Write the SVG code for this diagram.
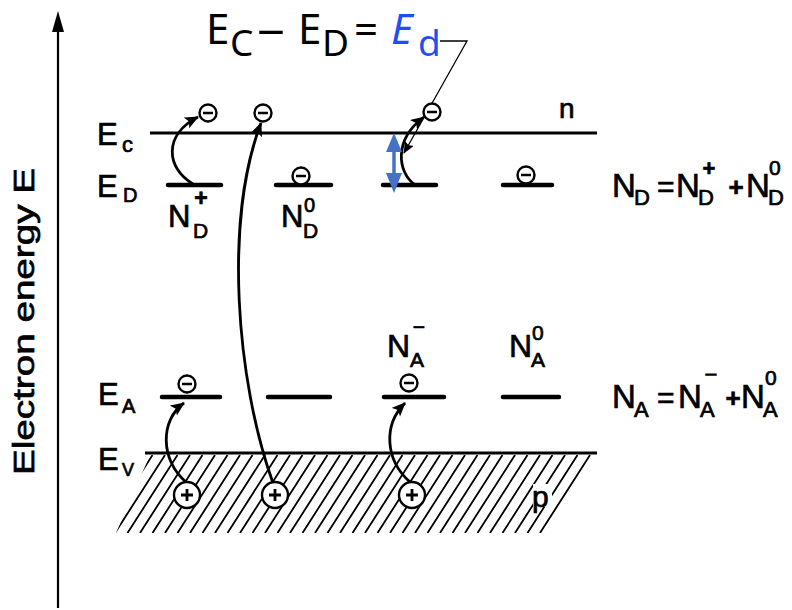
<svg xmlns="http://www.w3.org/2000/svg" width="792" height="610" viewBox="0 0 792 610">
<style>
.t{font-family:"Liberation Sans",Arial,sans-serif;fill:#000;stroke:#000;stroke-width:0.7}
.ti{font-family:"Noto Sans","Liberation Sans",sans-serif;fill:#000}
.lvl{stroke:#000;stroke-width:3;fill:none}
.seg{stroke:#000;stroke-width:4.5;stroke-linecap:round;fill:none}
.hatch{stroke:#000;stroke-width:1.8}
.el{fill:#fff;stroke:#000;stroke-width:2.4}
.arr{fill:none;stroke:#000;stroke-width:2.8}
</style>
<defs>
<marker id="ah" markerUnits="userSpaceOnUse" markerWidth="16" markerHeight="14" refX="13" refY="6" orient="auto">
<path d="M0,0 L14,6 L0,12 L3,6 Z" fill="#000"/>
</marker>
<marker id="ahs" markerUnits="userSpaceOnUse" markerWidth="14" markerHeight="12" refX="11" refY="5" orient="auto">
<path d="M0,0 L12,5 L0,10 L2,5 Z" fill="#000"/>
</marker>
<clipPath id="hc"><polygon points="150,455 597,455 547,533 116,533"/></clipPath>
</defs>
<rect width="792" height="610" fill="#fff"/>

<g id="axis">
<line x1="58" y1="608" x2="58" y2="28" stroke="#000" stroke-width="2.2"/>
<polygon points="58,11 52,32 64,32" fill="#000"/>
<text class="t" transform="translate(34 321.5) rotate(-90)" text-anchor="middle" font-size="29" stroke-width="0.2" textLength="307" lengthAdjust="spacingAndGlyphs">Electron energy E</text>
</g>

<g id="title">
<text class="ti" x="206" y="44" font-size="42">E</text>
<text class="ti" x="230" y="56" font-size="37">C</text>
<text class="ti" x="257" y="44" font-size="42" textLength="28" lengthAdjust="spacingAndGlyphs">–</text>
<text class="ti" x="298" y="44" font-size="42">E</text>
<text class="ti" x="322" y="56" font-size="37">D</text>
<text class="ti" x="354" y="44" font-size="42">=</text>
<text class="ti" x="391" y="44" font-size="42" font-style="italic" style="fill:#1f4ef5">E</text>
<text class="ti" x="418" y="56" font-size="37" style="fill:#1f4ef5">d</text>
</g>

<g id="hatching" clip-path="url(#hc)">
<path class="hatch" d="M90,533 l50,-78 M102.5,533 l50,-78 M115,533 l50,-78 M127.5,533 l50,-78 M140,533 l50,-78 M152.5,533 l50,-78 M165,533 l50,-78 M177.5,533 l50,-78 M190,533 l50,-78 M202.5,533 l50,-78 M215,533 l50,-78 M227.5,533 l50,-78 M240,533 l50,-78 M252.5,533 l50,-78 M265,533 l50,-78 M277.5,533 l50,-78 M290,533 l50,-78 M302.5,533 l50,-78 M315,533 l50,-78 M327.5,533 l50,-78 M340,533 l50,-78 M352.5,533 l50,-78 M365,533 l50,-78 M377.5,533 l50,-78 M390,533 l50,-78 M402.5,533 l50,-78 M415,533 l50,-78 M427.5,533 l50,-78 M440,533 l50,-78 M452.5,533 l50,-78 M465,533 l50,-78 M477.5,533 l50,-78 M490,533 l50,-78 M502.5,533 l50,-78 M515,533 l50,-78 M527.5,533 l50,-78 M540,533 l50,-78 M552.5,533 l50,-78"/>
</g>

<g id="bands">
<line class="lvl" x1="150" y1="133" x2="597" y2="133"/>
<line class="lvl" x1="145" y1="453" x2="597" y2="453"/>
<text class="t" x="97" y="145" font-size="31">E</text>
<text class="t" x="122" y="152" font-size="22">c</text>
<text class="t" x="97" y="197" font-size="31">E</text>
<text class="t" x="123" y="202" font-size="20">D</text>
<text class="t" x="98" y="405" font-size="31">E</text>
<text class="t" x="122" y="413" font-size="20">A</text>
<text class="t" x="98" y="470" font-size="31">E</text>
<text class="t" x="122" y="476" font-size="18">V</text>
<text class="t" x="559" y="118" font-size="28">n</text>
<rect x="533" y="484" width="19" height="23" fill="#fff"/>
<text class="t" x="532" y="507" font-size="30">p</text>
</g>

<g id="donors">
<line class="seg" x1="168" y1="185" x2="221" y2="185"/>
<line class="seg" x1="276" y1="185" x2="331" y2="185"/>
<line class="seg" x1="383" y1="185" x2="436" y2="185"/>
<line class="seg" x1="503" y1="185" x2="552" y2="185"/>
<text class="t" x="168" y="227" font-size="31">N</text>
<text class="t" x="193" y="238" font-size="21">D</text>
<text class="t" x="201" y="206" font-size="23" font-weight="bold" text-anchor="middle">+</text>
<text class="t" x="281" y="227" font-size="31">N</text>
<text class="t" x="303" y="238" font-size="21">D</text>
<text class="t" x="304" y="212" font-size="20">0</text>
</g>

<g id="acceptors">
<line class="seg" x1="162" y1="397" x2="220" y2="397"/>
<line class="seg" x1="268" y1="397" x2="330" y2="397"/>
<line class="seg" x1="384" y1="397" x2="444" y2="397"/>
<line class="seg" x1="503" y1="397" x2="559" y2="397"/>
<text class="t" x="387" y="357" font-size="32">N</text>
<text class="t" x="410" y="367" font-size="21">A</text>
<text class="t" x="419" y="334" font-size="21" text-anchor="middle">−</text>
<text class="t" x="509" y="357" font-size="32">N</text>
<text class="t" x="531" y="367" font-size="21">A</text>
<text class="t" x="532" y="340" font-size="21">0</text>
</g>

<g id="formulas">
<text class="t" x="612" y="197" font-size="33">N</text>
<text class="t" x="634" y="205" font-size="22">D</text>
<text class="t" x="657" y="197" font-size="30">=</text>
<text class="t" x="676" y="197" font-size="33">N</text>
<text class="t" x="698" y="205" font-size="22">D</text>
<text class="t" x="709" y="176" font-size="22" font-weight="bold" text-anchor="middle">+</text>
<text class="t" x="736" y="196" font-size="26" font-weight="bold" text-anchor="middle">+</text>
<text class="t" x="746" y="197" font-size="33">N</text>
<text class="t" x="768" y="205" font-size="22">D</text>
<text class="t" x="769" y="175" font-size="21">0</text>

<text class="t" x="612" y="408" font-size="33">N</text>
<text class="t" x="634" y="417" font-size="22">A</text>
<text class="t" x="657" y="408" font-size="30">=</text>
<text class="t" x="678" y="408" font-size="33">N</text>
<text class="t" x="700" y="417" font-size="22">A</text>
<text class="t" x="711" y="382" font-size="22" text-anchor="middle">−</text>
<text class="t" x="733" y="407" font-size="26" font-weight="bold" text-anchor="middle">+</text>
<text class="t" x="741" y="408" font-size="33">N</text>
<text class="t" x="763" y="417" font-size="22">A</text>
<text class="t" x="765" y="385" font-size="21">0</text>
</g>

<g id="connectors">
<path class="arr" d="M193,184 C166,168 163,135 198,117" marker-end="url(#ah)"/>
<path class="arr" stroke-width="2" d="M273,483 C236,380 224,220 261,123" marker-end="url(#ah)"/>
<path class="arr" d="M414,184 C398,172 393,140 424,117" marker-end="url(#ah)"/>
<path class="arr" stroke-width="3.4" d="M186,482 C160,460 160,420 184,403" marker-end="url(#ah)"/>
<path class="arr" stroke-width="3.4" d="M410,482 C385,460 383,425 405,403" marker-end="url(#ah)"/>
<polyline points="440,41 467,41 404,153" fill="none" stroke="#000" stroke-width="1.3" marker-end="url(#ahs)"/>
<g id="ed-arrow">
<line x1="394" y1="148" x2="394" y2="177" stroke="#4472c4" stroke-width="3.5"/>
<polygon points="394,133 386,152 402,152" fill="#4472c4"/>
<polygon points="394,193 386,173 402,173" fill="#4472c4"/>
</g>
</g>

<g id="electrons">
<g id="e1"><circle class="el" cx="208" cy="113" r="8.5"/><line x1="203" y1="113" x2="213" y2="113" stroke="#000" stroke-width="2.5"/></g>
<g id="e2"><circle class="el" cx="263" cy="113" r="8.5"/><line x1="258" y1="113" x2="268" y2="113" stroke="#000" stroke-width="2.5"/></g>
<g id="e3"><circle class="el" cx="432" cy="112" r="8.5"/><line x1="427" y1="112" x2="437" y2="112" stroke="#000" stroke-width="2.5"/></g>
<g id="e4"><circle class="el" cx="301" cy="176" r="8.5"/><line x1="296" y1="176" x2="306" y2="176" stroke="#000" stroke-width="2.5"/></g>
<g id="e5"><circle class="el" cx="526" cy="175" r="8.5"/><line x1="521" y1="175" x2="531" y2="175" stroke="#000" stroke-width="2.5"/></g>
<g id="e6"><circle class="el" cx="187" cy="384" r="8.5"/><line x1="182" y1="384" x2="192" y2="384" stroke="#000" stroke-width="2.5"/></g>
<g id="e7"><circle class="el" cx="409" cy="383" r="8.5"/><line x1="404" y1="383" x2="414" y2="383" stroke="#000" stroke-width="2.5"/></g>
</g>

<g id="holes">
<g id="h1"><circle class="el" cx="187" cy="495" r="13"/><path d="M181,495 h12 M187,489 v12" stroke="#000" stroke-width="2.8"/></g>
<g id="h2"><circle class="el" cx="275" cy="495" r="13"/><path d="M269,495 h12 M275,489 v12" stroke="#000" stroke-width="2.8"/></g>
<g id="h3"><circle class="el" cx="412" cy="495" r="13"/><path d="M406,495 h12 M412,489 v12" stroke="#000" stroke-width="2.8"/></g>
</g>
</svg>
